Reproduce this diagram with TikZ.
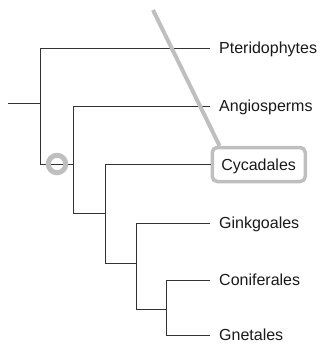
\documentclass[tikz,border=0pt]{standalone}
\usepackage{fontspec}
\setmainfont{Liberation Sans}
\begin{document}
\begin{tikzpicture}[x=1pt,y=-1pt,
  branch/.style={draw=black!80,line width=0.9pt},
  lbl/.style={anchor=west,inner xsep=9pt,inner ysep=0pt,text height=12pt,text depth=1pt,
    font=\fontsize{16}{18}\selectfont,text=black!90},
  hilite/.style={draw=black!25,line width=3.5pt},
  boxed/.style={lbl,hilite,rounded corners=5pt,text width=75pt,minimum height=34pt}]
\useasboundingbox (0,0) rectangle (321,346);
% taxa
\node[lbl] (pter) at (210,48) {Pteridophytes};
\node[lbl] (ang) at (210,106) {Angiosperms};
\node[boxed] (cyc) at (210.5,164.5) {Cycadales};
\node[lbl] (gink) at (210,223) {Ginkgoales};
\node[lbl] (conif) at (210,280) {Coniferales};
\node[lbl] (gnet) at (210,335) {Gnetales};
% internal nodes
\coordinate (root) at (8,103);
\coordinate (n1) at (40,103);
\coordinate (n2) at (73,164);
\coordinate (n3) at (105,213);
\coordinate (n4) at (136,263);
\coordinate (n5) at (166,309);
% branches
\draw[branch] (root) -- (n1);
\draw[branch] (n1) |- (pter.west);
\draw[branch] (n1) |- (n2);
\draw[branch] (n2) |- (ang.west);
\draw[branch] (n2) |- (n3);
\draw[branch] (n3) |- (cyc.west);
\draw[branch] (n3) |- (n4);
\draw[branch] (n4) |- (gink.west);
\draw[branch] (n4) |- (n5);
\draw[branch] (n5) |- (conif.west);
\draw[branch] (n5) |- (gnet.west);
% highlight ring on the seed-plant stem
\coordinate (ring) at (57,164);
\draw[hilite,line width=5pt] (ring) circle (8.75);
% pointer to the boxed taxon
\coordinate (ptr) at (153,10);
\draw[hilite,line width=4pt] (ptr) -- ([xshift=9pt]cyc.north west);
\end{tikzpicture}
\end{document}
